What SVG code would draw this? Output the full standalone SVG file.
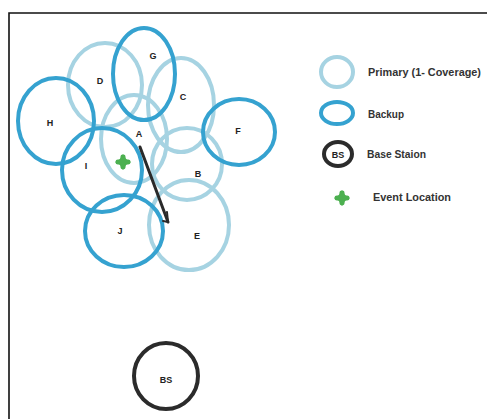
<svg xmlns="http://www.w3.org/2000/svg" width="487" height="419" viewBox="0 0 487 419">
  <style>
    .primary { fill: none; stroke: #a6d3e2; stroke-width: 4; }
    .backup { fill: none; stroke: #35a2d0; stroke-width: 4; }
    .bs { fill: none; stroke: #2b2b2b; stroke-width: 4; }
    .lbl { font-family: "Liberation Sans", Arial, sans-serif; font-size: 9px; font-weight: bold; fill: #222; text-anchor: middle; }
    .leg { font-family: "Liberation Sans", Arial, sans-serif; font-size: 10px; font-weight: bold; fill: #333; }
    .event { fill: #4cb050; }
  </style>
  <defs>
    <!-- rounded plus used for the event marker -->
    <g id="cross" class="event">
      <path d="M0 -8 Q2.2 -2.2 8 0 Q2.2 2.2 0 8 Q-2.2 2.2 -8 0 Q-2.2 -2.2 0 -8 Z"/>
      <rect x="-2.6" y="-7.5" width="5.2" height="15" rx="2.4"/>
      <rect x="-7.5" y="-2.6" width="15" height="5.2" rx="2.4"/>
    </g>
  </defs>
  <rect width="487" height="419" fill="#fff"/>
  <!-- frame -->
  <path d="M9 419 V13 H487" fill="none" stroke="#111" stroke-width="1.6"/>

  <!-- primary sensors -->
  <g id="node-D"><ellipse class="primary" cx="105" cy="85" rx="37" ry="42"/><text class="lbl" x="100" y="84">D</text></g>
  <g id="node-C"><ellipse class="primary" cx="181" cy="105" rx="33" ry="47"/><text class="lbl" x="183" y="100">C</text></g>
  <g id="node-A"><ellipse class="primary" cx="134" cy="139" rx="33" ry="44"/><text class="lbl" x="139" y="137">A</text></g>
  <g id="node-B"><ellipse class="primary" cx="187" cy="164" rx="35" ry="36"/><text class="lbl" x="198" y="177">B</text></g>
  <g id="node-E"><ellipse class="primary" cx="189" cy="225" rx="40" ry="45"/><text class="lbl" x="197" y="239">E</text></g>

  <!-- backup sensors -->
  <g id="node-G"><ellipse class="backup" cx="144" cy="74" rx="31" ry="46"/><text class="lbl" x="153" y="59">G</text></g>
  <g id="node-H"><ellipse class="backup" cx="56" cy="121" rx="38" ry="43"/><text class="lbl" x="50" y="126">H</text></g>
  <g id="node-F"><ellipse class="backup" cx="239" cy="132" rx="36" ry="33"/><text class="lbl" x="238" y="134">F</text></g>
  <g id="node-I"><ellipse class="backup" cx="102" cy="170" rx="40" ry="42"/><text class="lbl" x="86" y="169">I</text></g>
  <g id="node-J"><ellipse class="backup" cx="124" cy="231" rx="39" ry="36"/><text class="lbl" x="120" y="234">J</text></g>

  <!-- event location -->
  <g id="event"><use href="#cross" x="123" y="162"/></g>

  <!-- base station -->
  <g id="node-BS"><ellipse class="bs" cx="166" cy="376" rx="32" ry="33"/><text class="lbl" x="166" y="383">BS</text></g>

  <!-- connectors -->
  <g id="connectors" fill="none" stroke="#2a2a2a" stroke-width="3" stroke-linecap="round">
    <path d="M140 147 L168 222"/>
    <path d="M167 212 L168 222 L163 221" stroke-width="2"/>
  </g>

  <!-- legend -->
  <g id="legend">
    <ellipse class="primary" cx="337" cy="72" rx="16" ry="15"/>
    <text class="leg" x="368" y="76" textLength="113" lengthAdjust="spacingAndGlyphs">Primary (1- Coverage)</text>
    <ellipse class="backup" cx="337" cy="113" rx="16" ry="11"/>
    <text class="leg" x="368" y="118" textLength="36" lengthAdjust="spacingAndGlyphs">Backup</text>
    <ellipse class="bs" cx="338" cy="154" rx="14" ry="12"/>
    <text class="lbl" x="338" y="158" font-size="8">BS</text>
    <text class="leg" x="367" y="158" textLength="59" lengthAdjust="spacingAndGlyphs">Base Staion</text>
    <use href="#cross" x="342" y="198"/>
    <text class="leg" x="373" y="201" textLength="78" lengthAdjust="spacingAndGlyphs">Event Location</text>
  </g>
</svg>
